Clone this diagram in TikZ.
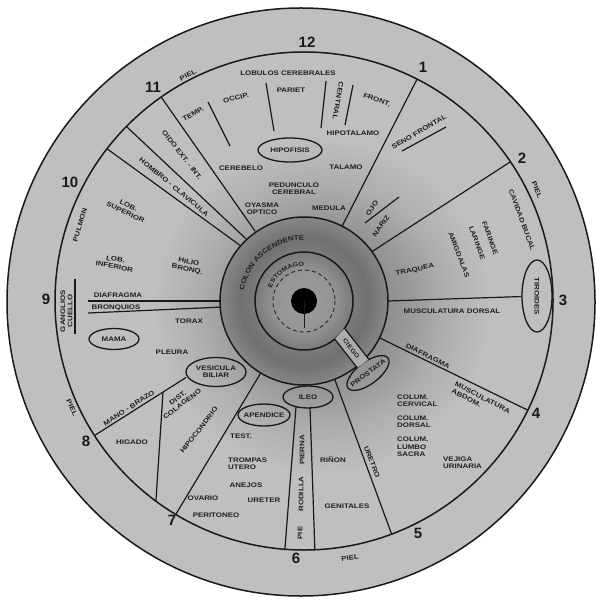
\documentclass[tikz,border=0pt]{standalone}
\usepackage{fontspec}
\newfontfamily\lblfont[FakeStretch=1.2]{Liberation Sans}
\newfontfamily\numfont{Liberation Sans}
\usetikzlibrary{shapes.geometric,decorations.text,calc}
\pgfdeclareradialshading{smudge}{\pgfpoint{0bp}{0bp}}{color(0bp)=(black!50); color(8bp)=(black!46); color(13bp)=(black!40); color(18bp)=(black!32); color(25bp)=(black!25); color(50bp)=(black!25)}
\pgfdeclareradialshading{collar}{\pgfpoint{0bp}{0bp}}{color(0bp)=(black!38); color(9bp)=(black!42); color(14.5bp)=(black!52); color(19bp)=(black!56); color(25bp)=(black!47); color(50bp)=(black!47)}
\tikzset{
 lbl/.style={font=\lblfont\bfseries\fontsize{6.6}{7.3}\selectfont, text=black!88, inner sep=0pt, align=center},
 num/.style={font=\numfont\bfseries\fontsize{15}{15}\selectfont, text=black!90, inner sep=0pt},
 ring/.style={draw=black!90, line width=1.5pt},
 seg/.style={draw=black!90, line width=1.2pt},
 organ/.style={ellipse, draw=black!90, line width=1.3pt, lbl, inner xsep=-6pt, inner ysep=-2pt},
}
\begin{document}
\begin{tikzpicture}[x=1pt,y=-1pt]
\useasboundingbox (0,0) rectangle (595,601);
\coordinate (C) at (304,301);
\coordinate (O) at (301,302);
% background disc and shading
\fill[black!25] (O) circle[radius=294];
\begin{scope}
 \clip (O) circle[radius=294];
 \shade[shading=smudge] (322,306) circle[radius=170];
\end{scope}
\draw[ring] (O) circle[radius=294];
\draw[ring] (C) circle[radius=249];
\shade[shading=collar] (C) circle[radius=84];
\draw[ring] (C) circle[radius=84];
\draw[ring] (C) circle[radius=49];
\draw[black!85, line width=0.9pt, dash pattern=on 4pt off 3pt] (C) circle[radius=31];
\fill[black] (C) circle[radius=13];
\coordinate (pd) at (304,328);
\draw[seg, line width=1pt] (C) -- (pd);

% ellipses (organs)
\node[organ, minimum width=64pt, minimum height=24pt] (hipof) at (290,150) {HIPOFISIS};
\node[organ, rotate=-90, minimum width=72pt, minimum height=30pt] (tiroides) at (537,296) {TIROIDES};
\node[organ, rotate=37, minimum width=50pt, minimum height=22pt] (prostata) at (368,373) {PROSTATA};
\node[organ, minimum width=50pt, minimum height=22pt] (ileo) at (308,397) {ILEO};
\node[organ, minimum width=52pt, minimum height=22pt] (apendice) at (264,415) {APENDICE};
\node[organ, minimum width=60pt, minimum height=29pt] (vesicula) at (216,372) {VESICULA\\BILIAR};
\node[organ, minimum width=50pt, minimum height=21pt] (mama) at (114,339) {MAMA};

% radial lines
\coordinate (r1a) at ($(C)+(-63:84)$);   \coordinate (r1b) at ($(C)+(-63:249)$);
\coordinate (r2a) at ($(C)+(-36:84)$);   \coordinate (r2b) at ($(C)+(-34:249)$);
\coordinate (r3a) at ($(C)+(0:84)$);
\coordinate (r4a) at ($(C)+(26:84)$);    \coordinate (r4b) at ($(C)+(26:249)$);
\coordinate (r5a) at ($(C)+(68.6:84)$);  \coordinate (r5b) at ($(C)+(69.4:249)$);
\coordinate (r7a) at ($(C)+(121:84)$);   \coordinate (r7b) at ($(C)+(121:249)$);
\coordinate (r8a) at (163,392.4);        \coordinate (r8b) at ($(C)+(126.5:249)$);
\coordinate (r9a) at (186,377.5);        \coordinate (r9b) at ($(C)+(147.3:249)$);
\coordinate (rAa) at ($(C)+(-125:85)$);  \coordinate (rAb) at ($(C)+(-125:249)$);
\coordinate (rBa) at ($(C)+(-133:85)$);  \coordinate (rBb) at ($(C)+(-135.5:249)$);
\coordinate (rCa) at ($(C)+(-139:85)$);  \coordinate (rCb) at ($(C)+(-142.3:249)$);
\draw[seg] (r1a) -- (r1b);
\draw[seg] (r2a) -- (r2b);
\draw[seg] (r3a) -- (tiroides);
\draw[seg] (r4a) -- (r4b);
\draw[seg] (r5a) -- (r5b);
\draw[seg] (r7a) -- (r7b);
\draw[seg] (r8a) -- (r8b);
\draw[seg] (r9a) -- (r9b);
\draw[seg] (rAa) -- (rAb);
\draw[seg] (rBa) -- (rBb);
\draw[seg] (rCa) -- (rCb);
% left double line
\coordinate (b1a) at ($(C)+(180:84)$); \coordinate (b1b) at (88,301);
\coordinate (b2a) at ($(C)+(175.8:84)$); \coordinate (b2b) at (88,313);
\draw[seg] (b1a) -- (b1b);
\draw[seg] (b2a) -- (b2b);
% leg strip
\coordinate (s1a) at (296,407); \coordinate (s1b) at ($(C)+(94.4:249)$);
\coordinate (s2a) at (310,407); \coordinate (s2b) at ($(C)+(87.5:249)$);
\draw[seg] (s1a) -- (s1b);
\draw[seg] (s2a) -- (s2b);
% ciego strip
\coordinate (c1a) at (334.8,339.1); \coordinate (c1b) at (357.2,367.8);
\coordinate (c2a) at (344.6,328.4); \coordinate (c2b) at (368.9,359.4);
\fill[black!32] (c1a) -- (c1b) -- (c2b) -- (c2a) -- cycle;
\draw[seg] (c1a) -- (c1b);
\draw[seg] (c2a) -- (c2b);
% short lines
\coordinate (t1a) at (208,102); \coordinate (t1b) at (230,146);
\coordinate (t2a) at (266,83);  \coordinate (t2b) at (274,131);
\coordinate (t3a) at (326,81);  \coordinate (t3b) at (321,128);
\coordinate (t4a) at (353,85);  \coordinate (t4b) at (345,125);
\coordinate (u1a) at (402,151); \coordinate (u1b) at (446,127);
\coordinate (u2a) at (365,223); \coordinate (u2b) at (399,197);
\coordinate (g1a) at (75,279);  \coordinate (g1b) at (75,334);
\foreach \p in {t1,t2,t3,t4,u1,u2,g1} \draw[seg] (\p a) -- (\p b);

% clock numbers
\node[num] (n12) at (307,42) {12};
\node[num] (n1) at (423,67) {1};
\node[num] (n2) at (522,158) {2};
\node[num] (n3) at (563,300) {3};
\node[num] (n4) at (536,413) {4};
\node[num] (n5) at (418,533) {5};
\node[num] (n6) at (296,558) {6};
\node[num] (n7) at (172,520) {7};
\node[num] (n8) at (86,441) {8};
\node[num] (n9) at (46,299) {9};
\node[num] (n10) at (70,182) {10};
\node[num] (n11) at (153,87) {11};

% curved labels
\path[decorate, decoration={text along path, text align=center, text color=black!88,
  text={|\lblfont\bfseries\fontsize{6.6}{7}\selectfont|COLON ASCENDENTE}}]
  ($(C)+(182:61)$) arc[start angle=182, end angle=278, radius=61];
\path[decorate, decoration={text along path, text align=center, text color=black!88,
  text={|\lblfont\bfseries\fontsize{6}{7}\selectfont|ESTOMAGO}}]
  ($(C)+(191:35)$) arc[start angle=191, end angle=281, radius=35];
\node[lbl, font=\lblfont\bfseries\fontsize{6}{7}\selectfont, rotate=-52] (ciego) at (351.3,348.6) {CIEGO};

% top sector
\node[lbl, rotate=27] (piel1) at (188,75) {PIEL};
\node[lbl] (lobulos) at (288,73) {LOBULOS CEREBRALES};
\node[lbl] (pariet) at (291,90) {PARIET};
\node[lbl, rotate=15] (occip) at (236,98) {OCCIP.};
\node[lbl, rotate=30] (temp) at (193,114) {TEMP.};
\node[lbl, rotate=-100] (central) at (338,101) {CENTRAL};
\node[lbl, rotate=-20] (front) at (377,100) {FRONT.};
\node[lbl] (hipot) at (353,133) {HIPOTALAMO};
\node[lbl] (cerebelo) at (241,168) {CEREBELO};
\node[lbl] (talamo) at (346,167) {TALAMO};
\node[lbl] (pedunculo) at (294,189) {PEDUNCULO\\CEREBRAL};
\node[lbl] (oyasma) at (262,209) {OYASMA\\OPTICO};
\node[lbl] (medula) at (329,208) {MEDULA};

% right side
\node[lbl, rotate=30] (seno) at (419,132) {SENO FRONTAL};
\node[lbl, rotate=55] (ojo) at (372,208) {OJO};
\node[lbl, rotate=55] (nariz) at (381,226) {NARIZ};
\node[lbl, rotate=-68] (piel2) at (537,190) {PIEL};
\node[lbl, rotate=-70] (cavidad) at (522,220) {CAVIDAD BUCAL};
\node[lbl, rotate=-70] (faringe) at (490,238) {FARINGE};
\node[lbl, rotate=-70] (laringe) at (477,243) {LARINGE};
\node[lbl, rotate=-69] (amigdalas) at (459,255) {AMIGDALAS};
\node[lbl, rotate=12] (traquea) at (415,270) {TRAQUEA};
\node[lbl] (muscd) at (452,311) {MUSCULATURA DORSAL};
\node[lbl, rotate=-27] (diaf2) at (428,356) {DIAFRAGMA};
\node[lbl, rotate=-27, align=left] (muscab) at (481,401) {MUSCULATURA\\ABDOM.};
\node[lbl, align=left, anchor=west] (colcerv) at (397,401) {COLUM.\\CERVICAL};
\node[lbl, align=left, anchor=west] (coldors) at (397,422) {COLUM.\\DORSAL};
\node[lbl, align=left, anchor=west] (collumb) at (397,447) {COLUM.\\LUMBO\\SACRA};
\node[lbl, align=left, anchor=west] (vejiga) at (443,463) {VEJIGA\\URINARIA};
\node[lbl, rotate=-69] (uretro) at (372,462) {URETRO};
\node[lbl] (rinon) at (333,460) {RIÑON};
\node[lbl] (genitales) at (347,506) {GENITALES};
\node[lbl, rotate=9] (piel3) at (350,558) {PIEL};
\node[lbl, rotate=90] (pierna) at (302,450) {PIERNA};
\node[lbl, rotate=90] (rodilla) at (301,494) {RODILLA};
\node[lbl, rotate=90] (pie) at (300,533) {PIE};

% bottom left
\node[lbl] (test) at (241,436) {TEST.};
\node[lbl, align=left, anchor=west] (trompas) at (228,464) {TROMPAS\\UTERO};
\node[lbl] (anejos) at (246,485) {ANEJOS};
\node[lbl] (ovario) at (203,498) {OVARIO};
\node[lbl] (ureter) at (264,500) {URETER};
\node[lbl] (peritoneo) at (216,515) {PERITONEO};
\node[lbl, rotate=52] (hipocondrio) at (199,430) {HIPOCONDRIO};
\node[lbl, rotate=37] (dist) at (180,401) {DIST.\\COLAGENO};
\node[lbl] (higado) at (132,442) {HIGADO};
\node[lbl, rotate=33] (mano) at (129,408) {MANO - BRAZO};
\node[lbl, rotate=-65] (piel4) at (72,408) {PIEL};
\node[lbl] (pleura) at (172,352) {PLEURA};
\node[lbl] (torax) at (189,321) {TORAX};

% left
\node[lbl, rotate=90] (ganglios) at (66.5,311) {GANGLIOS\\CUELLO};
\node[lbl] (diaf1) at (118,295) {DIAFRAGMA};
\node[lbl] (bronq) at (116,307.5) {BRONQUIOS};
\node[lbl, rotate=-10] (lobinf) at (115,263) {LOB.\\INFERIOR};
\node[lbl, rotate=-12] (hilio) at (188,266) {HILIO\\BRONQ.};
\node[lbl, rotate=-25] (lobsup) at (127,209) {LOB.\\SUPERIOR};
\node[lbl, rotate=73] (pulmon) at (80,225) {PULMON};
\node[lbl, rotate=-40] (hombro) at (174,187) {HOMBRO - CLAVICULA};
\node[lbl, rotate=-52] (oido) at (182,155) {OIDO EXT. - INT.};
\end{tikzpicture}
\end{document}
